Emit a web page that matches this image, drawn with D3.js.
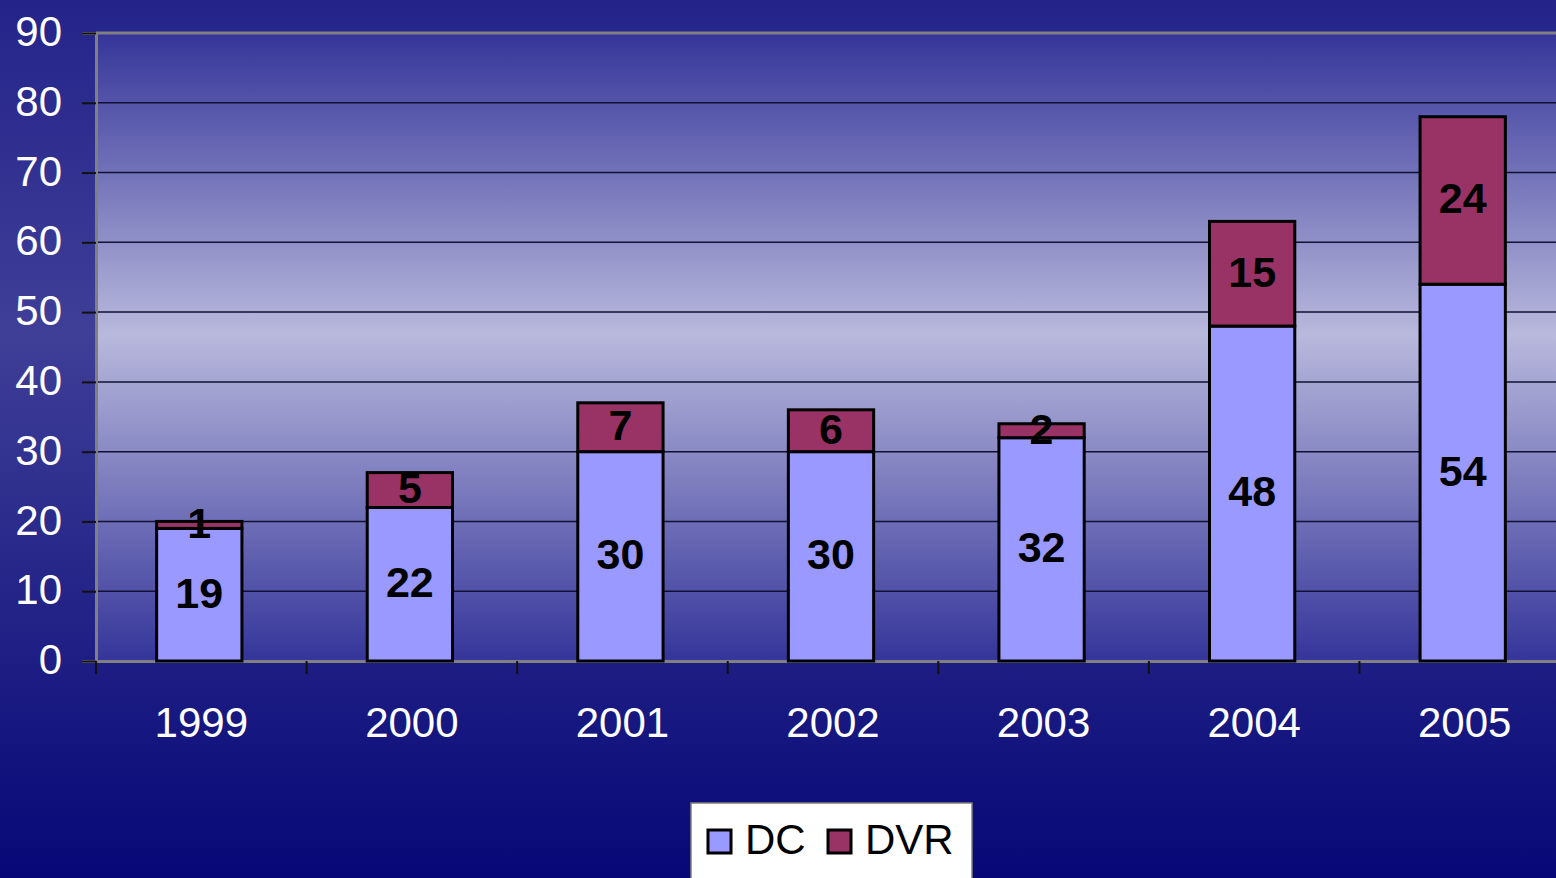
<!DOCTYPE html>
<html>
<head>
<meta charset="utf-8">
<script src="https://cdn.jsdelivr.net/npm/d3@7"></script>
<style>
  html, body { margin: 0; padding: 0; overflow: hidden; }
  svg { display: block; font-family: "Liberation Sans", Arial, sans-serif; }
</style>
</head>
<body>
<svg width="1556" height="878"></svg>
<script>
// DATA
const years = ['1999', '2000', '2001', '2002', '2003', '2004', '2005'];
const dc = [19, 22, 30, 30, 32, 48, 54];
const dvr = [1, 5, 7, 6, 2, 15, 24];
const seriesNames = ['DC', 'DVR'];
const yTicks = [0, 10, 20, 30, 40, 50, 60, 70, 80, 90];

const svg = d3.select('svg');
const width = +svg.attr('width');
const height = +svg.attr('height');

const plotLeft = 96, plotTop = 33, plotBottom = 661, plotRight = 1570;

const defs = svg.append('defs');
const bg = defs.append('linearGradient')
    .attr('id', 'bg').attr('x1', 0).attr('y1', 0).attr('x2', 0).attr('y2', 1);
bg.append('stop').attr('offset', '0%').attr('stop-color', '#24238a');
bg.append('stop').attr('offset', '38%').attr('stop-color', '#3f3f98');
bg.append('stop').attr('offset', '100%').attr('stop-color', '#070777');

const plotBg = defs.append('linearGradient')
    .attr('id', 'plotBg').attr('x1', 0).attr('y1', 0).attr('x2', 0).attr('y2', 1);
plotBg.append('stop').attr('offset', '0%').attr('stop-color', '#35359a');
plotBg.append('stop').attr('offset', '48%').attr('stop-color', '#b9b9dd');
plotBg.append('stop').attr('offset', '100%').attr('stop-color', '#35359a');

svg.append('rect')
    .attr('width', width).attr('height', height)
    .attr('fill', 'url(#bg)');

svg.append('rect')
    .attr('x', plotLeft).attr('y', plotTop)
    .attr('width', plotRight - plotLeft).attr('height', plotBottom - plotTop)
    .attr('fill', 'url(#plotBg)');

const x = d3.scaleBand().domain(years).range([plotLeft, plotRight]).paddingInner(0).paddingOuter(0);
const y = d3.scaleLinear().domain([0, 90]).range([plotBottom, plotTop]);

// gridlines
svg.append('g')
  .selectAll('line')
  .data(yTicks.filter(d => d > 0 && d < 90))
  .join('line')
    .attr('x1', plotLeft).attr('x2', plotRight)
    .attr('y1', d => y(d)).attr('y2', d => y(d))
    .attr('stroke', '#111133').attr('stroke-width', 1.5);

// top frame line
svg.append('line')
    .attr('x1', plotLeft).attr('x2', plotRight).attr('y1', plotTop).attr('y2', plotTop)
    .attr('stroke', '#808080').attr('stroke-width', 3);

// y axis
const yAxis = svg.append('g')
    .attr('transform', `translate(${plotLeft},0)`)
    .call(d3.axisLeft(y).tickValues(yTicks).tickSize(14).tickPadding(20));
yAxis.select('.domain').attr('stroke', '#808080').attr('stroke-width', 3);
yAxis.selectAll('.tick line').attr('stroke', '#111').attr('stroke-width', 2);
yAxis.selectAll('.tick text')
    .attr('fill', '#fff')
    .attr('x', -34)
    .attr('dy', '0.3em')
    .style('font-size', '42px')
    .style('font-family', '"Liberation Sans", Arial, sans-serif');

// x axis
const xAxis = svg.append('g')
    .attr('transform', `translate(0,${plotBottom})`)
    .call(d3.axisBottom(x).tickSize(0).tickPadding(46));
xAxis.select('.domain').attr('stroke', '#808080').attr('stroke-width', 3);
xAxis.selectAll('.tick text')
    .attr('fill', '#fff')
    .style('font-size', '42px')
    .style('font-family', '"Liberation Sans", Arial, sans-serif');

// x tick marks at band boundaries
svg.append('g')
  .selectAll('line')
  .data(years)
  .join('line')
    .attr('x1', d => x(d)).attr('x2', d => x(d))
    .attr('y1', plotBottom).attr('y2', plotBottom + 13)
    .attr('stroke', '#111').attr('stroke-width', 2);

// bars
const stacked = d3.stack().keys(seriesNames)(years.map((yr, i) => ({ year: yr, DC: dc[i], DVR: dvr[i] })));
const colors = { DC: '#9999ff', DVR: '#993366' };
const barW = x.bandwidth() * 0.405;

const layers = svg.append('g')
  .selectAll('g')
  .data(stacked)
  .join('g')
    .attr('fill', d => colors[d.key]);

layers.selectAll('rect')
  .data(d => d)
  .join('rect')
    .attr('x', d => x(d.data.year) + x.bandwidth() / 2 - barW / 2 - 2)
    .attr('width', barW)
    .attr('y', d => y(d[1]))
    .attr('height', d => y(d[0]) - y(d[1]))
    .attr('stroke', '#000')
    .attr('stroke-width', 3);

// data labels
const labels = svg.append('g');
stacked.forEach(layer => {
  labels.append('g').selectAll('text')
    .data(layer)
    .join('text')
      .attr('x', d => x(d.data.year) + x.bandwidth() / 2 - 2)
      .attr('y', d => (y(d[0]) + y(d[1])) / 2)
      .attr('dy', '0.3em')
      .attr('text-anchor', 'middle')
      .attr('font-weight', 'bold')
      .attr('font-size', '43px')
      .attr('fill', '#000')
      .text(d => d[1] - d[0]);
});

// legend
const legend = svg.append('g').attr('transform', 'translate(691,803)');
legend.append('rect')
    .attr('width', 281).attr('height', 90)
    .attr('fill', '#fff').attr('stroke', '#808080').attr('stroke-width', 1.5);
const legendX = [14, 134];
seriesNames.forEach((name, i) => {
  const item = legend.append('g').attr('transform', `translate(${legendX[i]},0)`);
  item.append('rect')
      .attr('x', 3).attr('y', 27).attr('width', 23).attr('height', 23)
      .attr('fill', colors[name]).attr('stroke', '#000').attr('stroke-width', 3);
  item.append('text')
      .attr('x', 40).attr('y', 51)
      .attr('font-size', '42px')
      .attr('fill', '#000')
      .text(name);
});
</script>
</body>
</html>
